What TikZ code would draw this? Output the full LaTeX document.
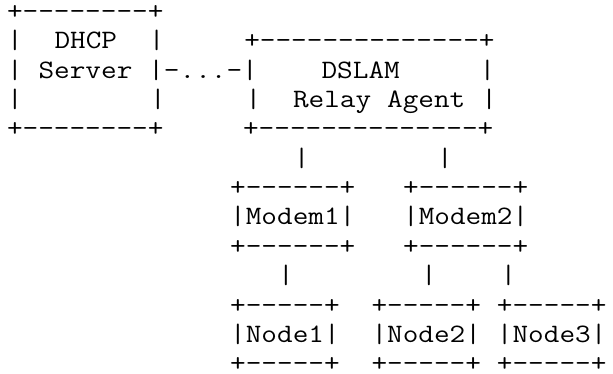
\documentclass[tikz,border=0pt]{standalone}
\usepackage{fontspec}
\setmonofont{Latin Modern Mono}[FakeStretch=1.1429]
\newcommand{\asciifont}{\ttfamily\fontsize{26.57pt}{29.35pt}\selectfont\fontdimen2\font=15.942pt\relax}
\begin{document}
\begin{tikzpicture}[x=1pt,y=1pt,
  asciiline/.style={anchor=base west, inner sep=0pt, outer sep=0pt,
    font=\asciifont, text=black}]
\useasboundingbox (0,0) rectangle (613,-373);
\def\lx{7.03}
\def\by{19.4}
\def\dy{29.36}
\node[asciiline] (l0)  at (\lx,{-(\by+0*\dy)})  {+--------+};
\node[asciiline] (l1)  at (\lx,{-(\by+1*\dy)})  {|~~DHCP~~|~~~~~+--------------+};
\node[asciiline] (l2)  at (\lx,{-(\by+2*\dy)})  {|~Server~|-...-|~~~~DSLAM~~~~~|};
\node[asciiline] (l3)  at (\lx,{-(\by+3*\dy)})  {|~~~~~~~~|~~~~~|~~Relay~Agent~|};
\node[asciiline] (l4)  at (\lx,{-(\by+4*\dy)})  {+--------+~~~~~+--------------+};
\node[asciiline] (l5)  at (\lx,{-(\by+5*\dy)})  {~~~~~~~~~~~~~~~~~~|~~~~~~~~|};
\node[asciiline] (l6)  at (\lx,{-(\by+6*\dy)})  {~~~~~~~~~~~~~~+------+~~~+------+};
\node[asciiline] (l7)  at (\lx,{-(\by+7*\dy)})  {~~~~~~~~~~~~~~|Modem1|~~~|Modem2|};
\node[asciiline] (l8)  at (\lx,{-(\by+8*\dy)})  {~~~~~~~~~~~~~~+------+~~~+------+};
\node[asciiline] (l9)  at (\lx,{-(\by+9*\dy)})  {~~~~~~~~~~~~~~~~~|~~~~~~~~|~~~~|};
\node[asciiline] (l10) at (\lx,{-(\by+10*\dy)}) {~~~~~~~~~~~~~~+-----+~~+-----+~+-----+};
\node[asciiline] (l11) at (\lx,{-(\by+11*\dy)}) {~~~~~~~~~~~~~~|Node1|~~|Node2|~|Node3|};
\node[asciiline] (l12) at (\lx,{-(\by+12*\dy)}) {~~~~~~~~~~~~~~+-----+~~+-----+~+-----+};
\end{tikzpicture}
\end{document}
